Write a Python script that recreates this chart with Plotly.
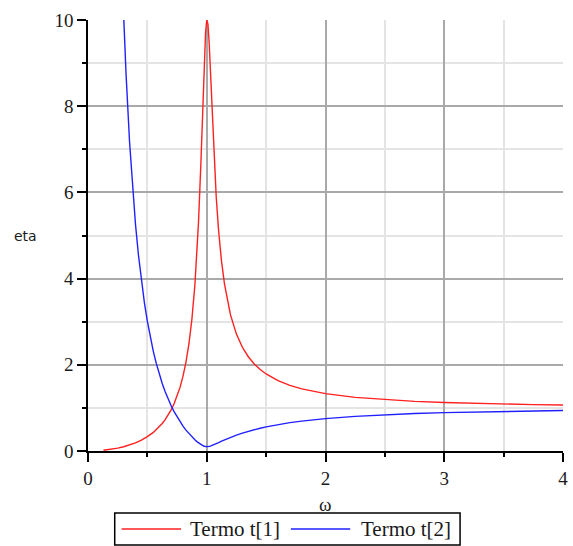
import plotly.graph_objects as go

# frequency ratio ω and the two response terms
omega_t1 = [0.13, 0.15, 0.2, 0.25, 0.3, 0.35, 0.4, 0.45, 0.5, 0.55, 0.6, 0.625, 0.65,
            0.675, 0.7, 0.725, 0.75, 0.775, 0.8, 0.825, 0.85, 0.875, 0.9, 0.92,
            0.93, 0.95, 0.96, 0.97, 0.98, 0.99, 1.0, 1.01, 1.02, 1.03, 1.04, 1.05,
            1.06, 1.07, 1.08, 1.1, 1.125, 1.15, 1.175, 1.2, 1.25, 1.3, 1.35, 1.4,
            1.45, 1.5, 1.6, 1.7, 1.8, 1.9, 2.0, 2.25, 2.5, 2.75, 3.0, 3.25, 3.5,
            3.75, 4.0]
termo_t1 = [0.017, 0.023, 0.042, 0.067, 0.099, 0.139, 0.190, 0.254, 0.333, 0.432,
            0.560, 0.638, 0.727, 0.831, 0.952, 1.095, 1.267, 1.476, 1.736, 2.063,
            2.489, 3.060, 3.853, 4.727, 5.273, 6.630, 7.436, 8.283, 9.087, 9.706,
            10.0, 9.906, 9.483, 8.866, 8.182, 7.513, 6.900, 6.356, 5.880, 5.104,
            4.387, 3.863, 3.466, 3.157, 2.712, 2.407, 2.187, 2.020, 1.891, 1.787,
            1.633, 1.523, 1.442, 1.380, 1.330, 1.244, 1.189, 1.151, 1.124, 1.104,
            1.088, 1.076, 1.066]

omega_t2 = [0.3, 0.31, 0.32, 0.35, 0.375, 0.4, 0.425, 0.45, 0.475, 0.5, 0.525, 0.55,
            0.575, 0.6, 0.625, 0.65, 0.675, 0.7, 0.725, 0.75, 0.775, 0.8, 0.825,
            0.85, 0.875, 0.9, 0.92, 0.95, 0.97, 0.99, 1.0, 1.01, 1.03, 1.05, 1.08,
            1.1, 1.125, 1.15, 1.175, 1.2, 1.25, 1.3, 1.35, 1.4, 1.45, 1.5, 1.6,
            1.7, 1.8, 1.9, 2.0, 2.25, 2.5, 2.75, 3.0, 3.25, 3.5, 3.75, 4.0]
termo_t2 = [10.12, 9.411, 8.771, 7.169, 6.117, 5.256, 4.542, 3.945, 3.439, 3.007,
            2.635, 2.313, 2.032, 1.786, 1.568, 1.376, 1.204, 1.051, 0.913, 0.789,
            0.677, 0.576, 0.485, 0.402, 0.327, 0.260, 0.212, 0.151, 0.121, 0.103,
            0.100, 0.101, 0.113, 0.133, 0.170, 0.196, 0.228, 0.259, 0.289, 0.317,
            0.369, 0.416, 0.457, 0.495, 0.529, 0.560, 0.613, 0.657, 0.694, 0.725,
            0.752, 0.804, 0.841, 0.869, 0.890, 0.906, 0.919, 0.929, 0.938]

x_ticks = [0, 1, 2, 3, 4]
y_ticks = [0, 2, 4, 6, 8, 10]

series_names = ["Termo t[1]", "Termo t[2]"]
series_colors = ["#ff2020", "#2020ff"]

serif = "Liberation Serif"
ink = "#1a1a1a"

fig = go.Figure()
fig.add_trace(go.Scatter(x=omega_t1, y=termo_t1, mode="lines", name=series_names[0],
                         line=dict(color=series_colors[0], width=1.4)))
fig.add_trace(go.Scatter(x=omega_t2, y=termo_t2, mode="lines", name=series_names[1],
                         line=dict(color=series_colors[1], width=1.4)))

axis_common = dict(
    showline=True, linecolor="black", linewidth=1.5, mirror=False,
    zeroline=False, showgrid=True, gridcolor="#a9a9a9", gridwidth=1.5,
    ticks="outside", ticklen=9, tickwidth=1.5, tickcolor="black",
    tickfont=dict(family=serif, size=19, color=ink),
    ticklabeloverflow="allow",
)
minor_common = dict(showgrid=True, gridcolor="#e4e4e4", gridwidth=1.5,
                    ticks="outside", ticklen=4, tickwidth=1.5, tickcolor="black")

fig.update_xaxes(range=[0, 4], tickvals=x_ticks, ticktext=[str(v) for v in x_ticks],
                 minor=dict(dtick=0.5, tick0=0, **minor_common), **axis_common)
fig.update_yaxes(range=[0, 10], tickvals=y_ticks, ticktext=[str(v) for v in y_ticks],
                 minor=dict(dtick=1, tick0=0, **minor_common), **axis_common)

fig.add_annotation(text="eta", xref="paper", yref="y", x=-0.131, y=5,
                   xanchor="center", yanchor="middle", showarrow=False,
                   font=dict(family="DejaVu Sans", size=14, color=ink))
fig.add_annotation(text="ω", xref="paper", yref="paper", x=0.5, y=-0.123,
                   xanchor="center", yanchor="middle", showarrow=False,
                   font=dict(family=serif, size=19, color=ink))

# boxed legend below the axis
fig.add_shape(type="rect", xref="paper", yref="paper",
              x0=0.05625, x1=0.7833, y0=-0.2181, y1=-0.1439,
              line=dict(color="black", width=1.5), fillcolor="white")
legend_y = -0.181
for (lx0, lx1, tx), name, color in zip(
        [(0.0708, 0.1958, 0.2105), (0.4271, 0.5521, 0.5709)],
        series_names, series_colors):
    fig.add_shape(type="line", xref="paper", yref="paper",
                  x0=lx0, x1=lx1, y0=legend_y, y1=legend_y,
                  line=dict(color=color, width=1.4))
    fig.add_annotation(text=name, xref="paper", yref="paper", x=tx, y=legend_y,
                       xanchor="left", yanchor="middle", showarrow=False,
                       font=dict(family=serif, size=21, color=ink))

fig.update_layout(
    width=573, height=546,
    margin=dict(l=88, r=5, t=20, b=95),
    plot_bgcolor="white", paper_bgcolor="white",
    showlegend=False,
)

fig.write_html("out.html")
